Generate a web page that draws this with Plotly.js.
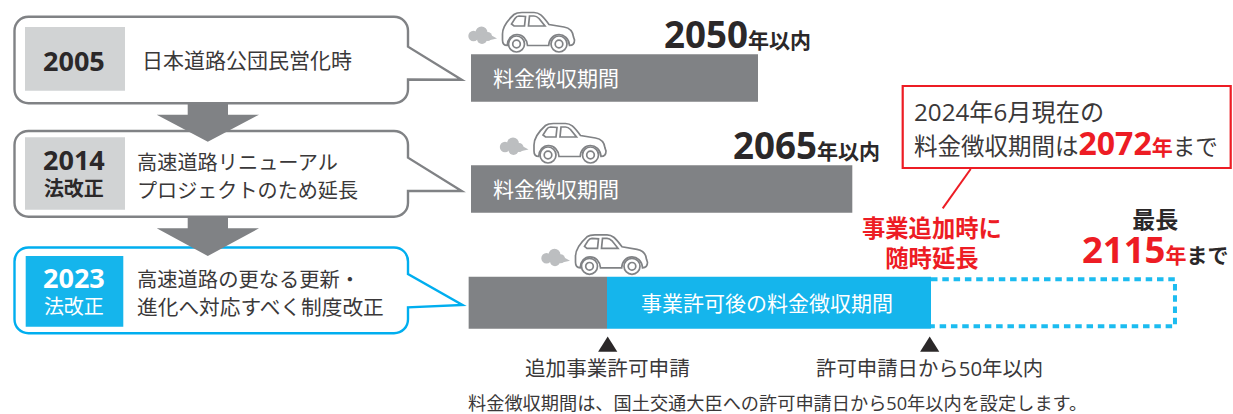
<!DOCTYPE html>
<html lang="ja">
<head>
<meta charset="utf-8">
<script src="https://cdn.plot.ly/plotly-3.0.1.min.js"></script>
<style>html,body{margin:0;padding:0;background:#fff}#chart{width:1233px;height:414px}</style>
</head>
<body>
<div id="chart"></div>
<script>
// Toll-collection periods, in calendar years
const rowStarts = [2004.35, 2004.35];
const rowEnds = [2050, 2065];
const amendedStart = 2006;
const applicationYear = 2027.35;
const permitYears = 50;
const latestEnd = 2115;

const tollLabel = '料金徴収期間';
const stageYears = ['2005', '2014', '2023'];
const stageTags = ['法改正', '法改正'];

const W = 1233, H = 414;
const GREY = '#808285', LIGHT = '#d1d3d4', CYAN = '#15b5ec', EDGE = '#00aeef';
const RED = '#ed1c24', INK = '#2b2829', BODY = '#3a3839', SMOKE = '#bcbec0';
const FONT = '"Open Sans", "Noto Sans CJK JP", sans-serif';

// Pixel helpers over the paper coordinate system
const fx = x => (x / W).toFixed(5);
const fy = y => (1 - y / H).toFixed(5);
const pt = (x, y) => fx(x) + ',' + fy(y);

function axisRange(anchorPx, anchorYear, pxPerYear, size) {
  const lo = anchorYear - anchorPx / pxPerYear;
  return [lo, lo + size / pxPerYear];
}
function rowRange(centerPx, rowPitch) {
  return [(H - centerPx) / rowPitch, -centerPx / rowPitch];
}
const PITCH = 111;

const shapes = [];
const addPath = (path, opts) => shapes.push(Object.assign({type: 'path', xref: 'paper', yref: 'paper', path}, opts));
const addRect = (x0, y0, x1, y1, fill) => shapes.push({type: 'rect', xref: 'paper', yref: 'paper',
  x0: fx(x0), x1: fx(x1), y0: fy(y0), y1: fy(y1), fillcolor: fill, line: {width: 0}});
const addCircle = (cx, cy, r, opts) => shapes.push(Object.assign({type: 'circle', xref: 'paper', yref: 'paper',
  x0: fx(cx - r), x1: fx(cx + r), y0: fy(cy + r), y1: fy(cy - r)}, opts));

// Speech-bubble frame with a pointer on its right side
function bubble(top, bottom, tailTop, tipX, tipY, tailBottom, color) {
  const l = 14.5, r = 408, k = 14, c = 6;
  const d = 'M' + pt(l + k, top) + ' L' + pt(r - k, top) +
    ' C' + pt(r - c, top) + ' ' + pt(r, top + c) + ' ' + pt(r, top + k) +
    ' L' + pt(r, tailTop) + ' L' + pt(tipX, tipY) + ' L' + pt(r, tailBottom) +
    ' L' + pt(r, bottom - k) +
    ' C' + pt(r, bottom - c) + ' ' + pt(r - c, bottom) + ' ' + pt(r - k, bottom) +
    ' L' + pt(l + k, bottom) +
    ' C' + pt(l + c, bottom) + ' ' + pt(l, bottom - c) + ' ' + pt(l, bottom - k) +
    ' L' + pt(l, top + k) +
    ' C' + pt(l, top + c) + ' ' + pt(l + c, top) + ' ' + pt(l + k, top) + ' Z';
  addPath(d, {fillcolor: '#fff', line: {color, width: 2.4}});
}

// Block arrow pointing down between two stages
function downArrow(y0, yNeck, yTip) {
  const d = 'M' + pt(187.7, y0) + ' L' + pt(228, y0) + ' L' + pt(228, yNeck) + ' L' + pt(259, yNeck) +
    ' L' + pt(207.8, yTip) + ' L' + pt(156.7, yNeck) + ' L' + pt(187.7, yNeck) + ' Z';
  addPath(d, {fillcolor: GREY, line: {width: 0}});
}

// Car side view with a puff of exhaust; (ox, oy) is the top-left of the body
function car(ox, oy) {
  const p = (x, y) => pt(ox + x, oy + y);
  const body = 'M' + p(5.2, 33.5) +
    ' C' + p(2, 33.5) + ' ' + p(0.5, 31.5) + ' ' + p(0.5, 28) +
    ' L' + p(0.5, 22) +
    ' C' + p(0.5, 15) + ' ' + p(7, 7) + ' ' + p(12, 2.5) +
    ' C' + p(14, 1) + ' ' + p(16, 0.5) + ' ' + p(20, 0.5) +
    ' L' + p(32, 0.5) +
    ' C' + p(37, 0.5) + ' ' + p(40, 3) + ' ' + p(47, 12.5) +
    ' L' + p(62, 15) +
    ' C' + p(68, 16) + ' ' + p(71, 20) + ' ' + p(71.5, 25) +
    ' L' + p(72.5, 28) +
    ' C' + p(72.5, 31.5) + ' ' + p(71, 33.5) + ' ' + p(67.5, 33.5) +
    ' C' + p(67, 26.5) + ' ' + p(62, 22.5) + ' ' + p(57, 22.5) +
    ' C' + p(51.5, 22.5) + ' ' + p(47, 27) + ' ' + p(46.7, 33.5) +
    ' L' + p(25.5, 33.5) +
    ' C' + p(25, 27) + ' ' + p(20.5, 22.5) + ' ' + p(15, 22.5) +
    ' C' + p(9.5, 22.5) + ' ' + p(5.5, 27) + ' ' + p(5.2, 33.5) + ' Z';
  const line = {color: GREY, width: 1.7};
  addPath(body, {line, fillcolor: '#fff'});
  addPath('M' + p(12, 14) + ' L' + p(22.5, 14) + ' L' + p(23.5, 4.5) + ' L' + p(17, 4) +
    ' C' + p(15, 4) + ' ' + p(14, 5) + ' ' + p(13, 6.5) + ' L' + p(9.5, 12) + ' Z', {line});
  addPath('M' + p(26.5, 14) + ' L' + p(43, 14) + ' L' + p(37, 6.5) +
    ' C' + p(35.5, 5) + ' ' + p(34, 4) + ' ' + p(32, 4) + ' L' + p(27.5, 4) + ' Z', {line});
  [14.5, 57].forEach(cx => {
    addCircle(ox + cx, oy + 32, 8, {line, fillcolor: '#fff'});
    addCircle(ox + cx, oy + 32, 3.8, {line, fillcolor: '#fff'});
  });
  // exhaust
  const puff = {fillcolor: SMOKE, line: {width: 0}};
  addCircle(ox - 28.5, oy + 24, 5.2, puff);
  addCircle(ox - 20.5, oy + 20.5, 6, puff);
  addCircle(ox - 20, oy + 27, 5, puff);
  addCircle(ox - 14.5, oy + 24.5, 4.5, puff);
  addPath('M' + p(-14, 21.5) + ' L' + p(-5, 26.5) + ' L' + p(-14, 28.5) + ' Z', puff);
}

// Stage frames, from the back of the drawing forward
bubble(16.8, 103.2, 46.7, 461.7, 79.7, 79.5, GREY);
bubble(131, 216.7, 157.7, 461.7, 191, 191, GREY);
bubble(247.5, 333.2, 274, 462.5, 305, 307.3, EDGE);
addRect(25, 27, 125, 90.7, LIGHT);
addRect(25, 137.3, 125, 209.7, LIGHT);
addRect(25.7, 256, 123.3, 326.7, CYAN);
downArrow(104, 114.7, 141.7);
downArrow(217.5, 228.3, 256);

car(502, 12);
car(533.5, 123);
car(575, 234.3);

// Application and permit-limit markers below the third bar
[[607.7, 336.5, 351.8], [929.7, 336.5, 351.8]].forEach(([x, top, bot]) =>
  addPath('M' + pt(x, top) + ' L' + pt(x + 9.6, bot) + ' L' + pt(x - 9.6, bot) + ' Z',
    {fillcolor: INK, line: {width: 0}}));

// Boxed note on the current end date and its leader line
shapes.push({type: 'rect', xref: 'paper', yref: 'paper', x0: fx(902.7), x1: fx(1230.7), y0: fy(86), y1: fy(168),
  fillcolor: '#fff', line: {color: RED, width: 2.2}});
addPath('M' + pt(970.7, 169) + ' L' + pt(942.7, 208.3), {line: {color: RED, width: 2}});

function note(text, x, y, size, color, anchor) {
  return {xref: 'paper', yref: 'paper', x: +fx(x), y: +fy(y), text, showarrow: false, borderpad: 0, borderwidth: 0,
    xanchor: anchor || 'left', yanchor: 'middle', align: anchor === 'center' ? 'center' : 'left',
    font: {family: FONT, size, color}};
}
const span = (t, size, color) => '<span style="font-size:' + size + 'px' + (color ? ';color:' + color : '') + '">' + t + '</span>';

const annotations = [
  note('<b>' + stageYears[0] + '</b>', 74.5, 60.5, 27, INK, 'center'),
  note('日本道路公団民営化時', 141.7, 60, 21, BODY),
  note('<b>' + span(stageYears[1], 27) + '<br>' + stageTags[0] + '</b>', 74, 171.5, 20, INK, 'center'),
  note('高速道路リニューアル', 137, 161.5, 20.2, BODY),
  note('プロジェクトのため延長', 137, 190.5, 20.1, BODY),
  note('<b>' + span(stageYears[2], 27) + '</b><br>' + stageTags[1], 74, 289.5, 20, '#fff', 'center'),
  note('高速道路の更なる更新・', 137, 279.5, 20.3, BODY),
  note('進化へ対応すべく制度改正', 137, 307.5, 20.7, BODY),

  note(tollLabel, 493, 78, 21, '#fff'),
  note(tollLabel, 493, 189, 21, '#fff'),
  note('事業許可後の料金徴収期間', 641, 303, 21, '#fff'),

  note('<b>' + rowEnds[0] + span('年以内', 21) + '</b>', 663.5, 34, 36.7, INK),
  note('<b>' + rowEnds[1] + span('年以内', 21) + '</b>', 732.5, 145, 36.7, INK),

  note('2024年6月現在の', 914, 111, 24.2, BODY),
  note('料金徴収期間は<b>' + span('2072', 32, RED) + span('年', 21, RED) + '</b>' + span('まで', 22.5), 914, 143, 23.5, BODY),

  note('<b>事業追加時に<br>随時延長</b>', 932, 243, 23.3, RED, 'center'),
  note('<b>' + span('最長', 23) + '<br>' + span(String(latestEnd), 36.5, RED) + span('年', 21, RED) + span('まで', 21, INK) + '</b>', 1155, 238, 27, INK, 'center'),

  note('追加事業許可申請', 607.5, 368, 20.6, BODY, 'center'),
  note('許可申請日から' + permitYears + '年以内', 929.5, 368, 20.4, BODY, 'center'),
  note('料金徴収期間は、国土交通大臣への許可申請日から' + permitYears + '年以内を設定します。', 468, 403, 18.2, BODY)
];

const permitEnd = applicationYear + permitYears;
const dashHalf = 23.5 / PITCH;
const barBase = {type: 'bar', orientation: 'h', hoverinfo: 'skip', showlegend: false};

const traces = [
  Object.assign({}, barBase, {
    name: tollLabel,
    y: [0, 1],
    base: rowStarts,
    x: rowEnds.map((e, i) => e - rowStarts[i]),
    width: 47.7 / PITCH,
    marker: {color: GREY},
    xaxis: 'x', yaxis: 'y'
  }),
  Object.assign({}, barBase, {
    name: '追加事業許可申請まで',
    y: [0],
    base: [amendedStart],
    x: [applicationYear - amendedStart],
    width: 52 / PITCH,
    marker: {color: GREY},
    xaxis: 'x2', yaxis: 'y2'
  }),
  Object.assign({}, barBase, {
    name: '事業許可後の料金徴収期間',
    y: [0],
    base: [applicationYear],
    x: [permitYears],
    width: 52 / PITCH,
    marker: {color: CYAN},
    xaxis: 'x2', yaxis: 'y2'
  }),
  {
    type: 'scatter', mode: 'lines', hoverinfo: 'skip', showlegend: false,
    name: '事業追加時に随時延長',
    x: [permitEnd, latestEnd, latestEnd, permitEnd],
    y: [-dashHalf, -dashHalf, dashHalf, dashHalf],
    line: {color: '#1cbcf0', width: 4, dash: '6.5px,4.8px'},
    xaxis: 'x2', yaxis: 'y2'
  }
];

const hidden = {visible: false, fixedrange: true, showgrid: false, zeroline: false};
const layout = {
  width: W, height: H,
  margin: {l: 0, r: 0, t: 0, b: 0, pad: 0},
  paper_bgcolor: '#fff', plot_bgcolor: '#fff',
  barmode: 'overlay',
  showlegend: false,
  font: {family: FONT},
  xaxis: Object.assign({}, hidden, {range: axisRange(758, rowEnds[0], 6.287, W)}),
  yaxis: Object.assign({}, hidden, {range: rowRange(78, PITCH)}),
  xaxis2: Object.assign({}, hidden, {range: axisRange(607, applicationYear, 6.48, W), overlaying: 'x'}),
  yaxis2: Object.assign({}, hidden, {range: rowRange(302.8, PITCH), overlaying: 'y'}),
  shapes,
  annotations
};

Plotly.newPlot('chart', traces, layout, {displayModeBar: false, staticPlot: true});
</script>
</body>
</html>
